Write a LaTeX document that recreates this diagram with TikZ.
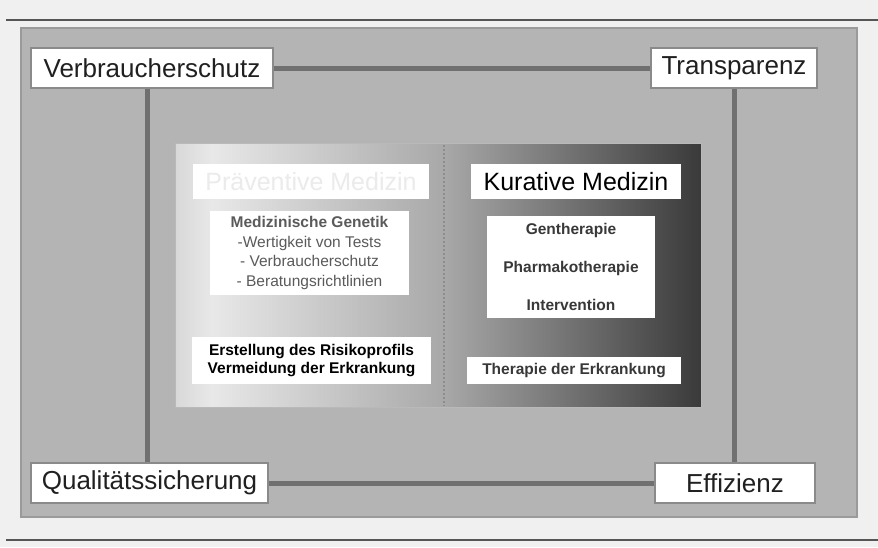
\documentclass[tikz,border=0pt]{standalone}
\usepackage{fontspec}
\setmainfont{Liberation Sans}
\definecolor{bgc}{HTML}{F0F0F0}
\definecolor{panelc}{HTML}{B4B4B4}
\definecolor{panelb}{HTML}{9A9A9A}
\definecolor{rulec}{HTML}{555555}
\definecolor{connc}{HTML}{707070}
\definecolor{boxb}{HTML}{8A8A8A}
\definecolor{inA}{HTML}{D8D8D8}
\definecolor{inB}{HTML}{E8E8E8}
\definecolor{inC}{HTML}{A8A8A8}
\definecolor{inD}{HTML}{3A3A3A}
\definecolor{faint}{HTML}{EBEBEB}
\definecolor{midtext}{HTML}{5A5A5A}
\definecolor{darktext}{HTML}{383838}
\definecolor{cornertext}{HTML}{202020}
\pgfdeclarehorizontalshading{innershade}{100bp}{color(0bp)=(inA); color(25bp)=(inA); color(28.5bp)=(inB); color(50.6bp)=(inC); color(75bp)=(inD); color(100bp)=(inD)}
\tikzset{
  cornerbox/.style={draw=boxb, line width=1.8pt, fill=white, inner sep=0pt, minimum height=40pt, text=cornertext, font=\fontsize{26}{30}\selectfont},
  whitebox/.style={fill=white, draw=none, inner sep=0pt, align=center},
  conn/.style={draw=connc, line width=5pt},
}
\begin{document}
\begin{tikzpicture}[x=1pt,y=-1pt]
\useasboundingbox (0,0) rectangle (878,547);
\fill[bgc] (0,0) rectangle (878,547);
\draw[rulec, line width=2pt] (6,20) -- (878,20);
\draw[rulec, line width=2pt] (6,540) -- (878,540);
\draw[fill=panelc, draw=panelb, line width=1.5pt] (21,28) rectangle (857,517);
% inner gradient area
\shade[shading=innershade] (175,143) rectangle (701,407);
\draw[inC!80!white, line width=0.8pt] (175,143) rectangle (701,407);
\draw[draw=black!45, line width=2.2pt, dash pattern=on 2pt off 2pt] (444,145) -- (444,406);
% corner nodes
\node[cornerbox, minimum width=242pt] (V) at (152,68) {Verbraucherschutz};
\node[cornerbox, minimum width=166pt] (T) at (734,68) {Transparenz};
\node[cornerbox, minimum width=237pt] (Q) at (149.5,483) {Qualitätssicherung};
\node[cornerbox, minimum width=160pt] (E) at (735,483) {Effizienz};
\coordinate (vl) at (147,0);
% connectors
\draw[conn] (V.east) -- (V.east -| T.west);
\draw[conn] (Q.east) -- (Q.east -| E.west);
\draw[conn] (V.south -| vl) -- (Q.north -| vl);
\draw[conn] (T.south) -- (T.south |- E.north);
% inner boxes
\node[whitebox, minimum width=236pt, minimum height=35pt, text=faint, font=\fontsize{25}{28}\selectfont] (P) at (311,181.5) {Präventive Medizin};
\node[whitebox, minimum width=199pt, minimum height=84pt, text=midtext, font=\fontsize{15.5}{19.5}\selectfont] (MG) at (309.5,253) {{\bfseries Medizinische Genetik}\\-Wertigkeit von Tests\\- Verbraucherschutz\\- Beratungsrichtlinien};
\node[whitebox, minimum width=239pt, minimum height=47pt, text=black, font=\fontsize{15.5}{18}\selectfont\bfseries] (ER) at (311.5,360.5) {Erstellung des Risikoprofils\\Vermeidung der Erkrankung};
\node[whitebox, minimum width=210pt, minimum height=35pt, text=black, font=\fontsize{25}{28}\selectfont] (K) at (576,181.5) {Kurative Medizin};
\node[whitebox, minimum width=168pt, minimum height=102pt, text=darktext, font=\fontsize{15.5}{18}\selectfont\bfseries] (G) at (571,267) {Gentherapie\\[20pt]Pharmakotherapie\\[20pt]Intervention};
\node[whitebox, minimum width=214pt, minimum height=27pt, text=darktext, font=\fontsize{15.5}{18}\selectfont\bfseries] (TE) at (574,370.5) {Therapie der Erkrankung};
\end{tikzpicture}
\end{document}
